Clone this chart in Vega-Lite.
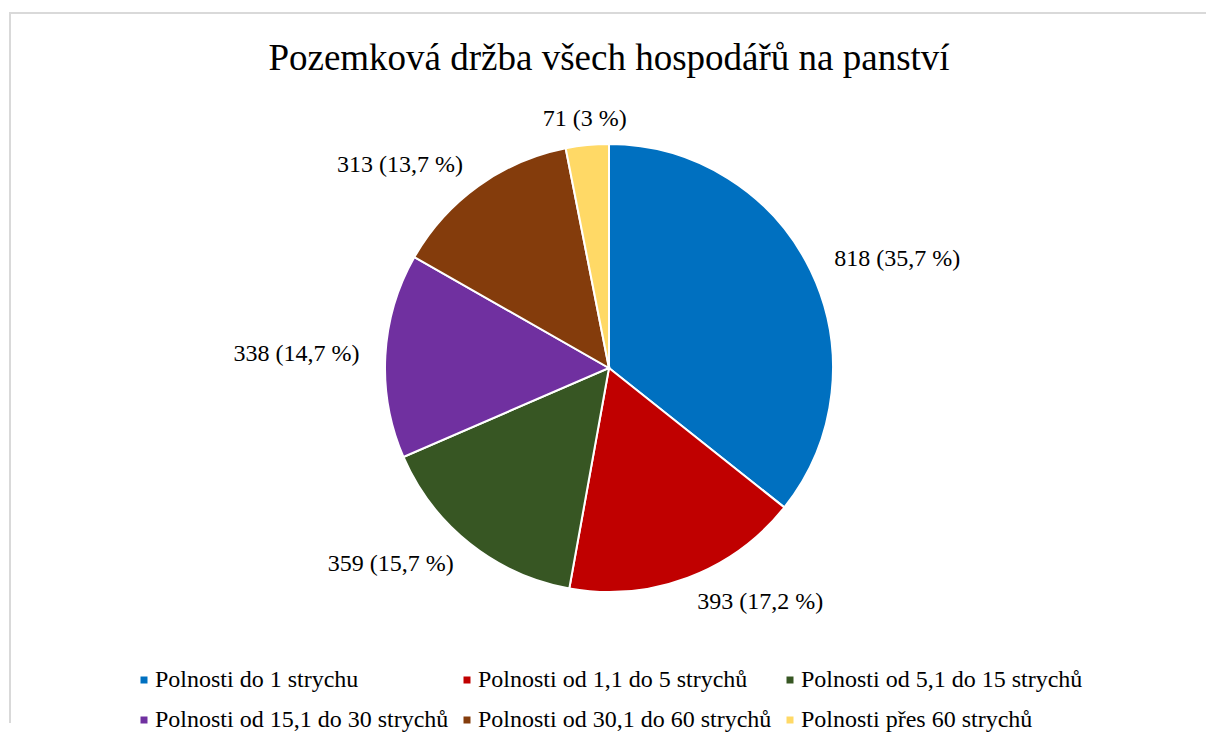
{
  "$schema": "https://vega.github.io/schema/vega-lite/v6.json",
  "width": 1198,
  "height": 710,
  "autosize": {"type": "none"},
  "padding": {"left": 10, "top": 13, "right": 0, "bottom": 26},
  "background": "white",
  "view": {"stroke": "#d9d9d9", "strokeWidth": 2, "strokeDash": [1196, 1910, 800], "fill": "white"},
  "config": {
    "font": "Liberation Serif"
  },
  "title": {
    "text": "Pozemková držba všech hospodářů na panství",
    "font": "Liberation Serif",
    "fontSize": 37,
    "fontWeight": "normal",
    "color": "#000000",
    "anchor": "middle",
    "frame": "group",
    "baseline": "alphabetic",
    "offset": -94
  },
  "data": {
    "values": [
      {"kategorie": "Polnosti do 1 strychu", "pocet": 818, "n": 1, "popisek": "818 (35,7 %)"},
      {"kategorie": "Polnosti od 1,1 do 5 strychů", "pocet": 393, "n": 2, "popisek": "393 (17,2 %)"},
      {"kategorie": "Polnosti od 5,1 do 15 strychů", "pocet": 359, "n": 3, "popisek": "359 (15,7 %)"},
      {"kategorie": "Polnosti od 15,1 do 30 strychů", "pocet": 338, "n": 4, "popisek": "338 (14,7 %)"},
      {"kategorie": "Polnosti od 30,1 do 60 strychů", "pocet": 313, "n": 5, "popisek": "313 (13,7 %)"},
      {"kategorie": "Polnosti přes 60 strychů", "pocet": 71, "n": 6, "popisek": "71 (3 %)"}
    ]
  },
  "layer": [
    {
      "mark": {"type": "arc", "outerRadius": 224, "stroke": "white", "strokeWidth": 2},
      "encoding": {
        "theta": {"field": "pocet", "type": "quantitative", "stack": true},
        "order": {"field": "n", "type": "quantitative"},
        "color": {
          "field": "kategorie",
          "type": "nominal",
          "scale": {
            "domain": ["Polnosti do 1 strychu", "Polnosti od 1,1 do 5 strychů", "Polnosti od 5,1 do 15 strychů", "Polnosti od 15,1 do 30 strychů", "Polnosti od 30,1 do 60 strychů", "Polnosti přes 60 strychů"],
            "range": ["#0070C0", "#C00000", "#375623", "#7030A0", "#843C0C", "#FFD966"]
          },
          "legend": {
            "title": null,
            "orient": "none",
            "legendX": 122,
            "legendY": 655,
            "padding": 0,
            "direction": "horizontal",
            "columns": 3,
            "columnPadding": 6,
            "rowPadding": 16,
            "symbolType": "square",
            "symbolSize": 49,
            "symbolStrokeWidth": 0,
            "labelFont": "Liberation Serif",
            "labelFontSize": 24,
            "labelColor": "#000000",
            "labelOffset": -1,
            "labelLimit": 500
          }
        }
      }
    },
    {
      "mark": {"type": "text", "radius": 250, "align": "left", "baseline": "middle", "fontSize": 24, "font": "Liberation Serif", "color": "#000000"},
      "encoding": {
        "theta": {"field": "pocet", "type": "quantitative", "stack": true},
        "order": {"field": "n", "type": "quantitative"},
        "text": {"field": "popisek", "type": "nominal"},
        "opacity": {"condition": {"test": "datum.n <= 2", "value": 1}, "value": 0}
      }
    },
    {
      "mark": {"type": "text", "radius": 250, "align": "right", "baseline": "middle", "fontSize": 24, "font": "Liberation Serif", "color": "#000000"},
      "encoding": {
        "theta": {"field": "pocet", "type": "quantitative", "stack": true},
        "order": {"field": "n", "type": "quantitative"},
        "text": {"field": "popisek", "type": "nominal"},
        "opacity": {"condition": {"test": "datum.n >= 3 && datum.n <= 5", "value": 1}, "value": 0}
      }
    },
    {
      "mark": {"type": "text", "radius": 250, "align": "center", "baseline": "middle", "fontSize": 24, "font": "Liberation Serif", "color": "#000000"},
      "encoding": {
        "theta": {"field": "pocet", "type": "quantitative", "stack": true},
        "order": {"field": "n", "type": "quantitative"},
        "text": {"field": "popisek", "type": "nominal"},
        "opacity": {"condition": {"test": "datum.n == 6", "value": 1}, "value": 0}
      }
    }
  ]
}
